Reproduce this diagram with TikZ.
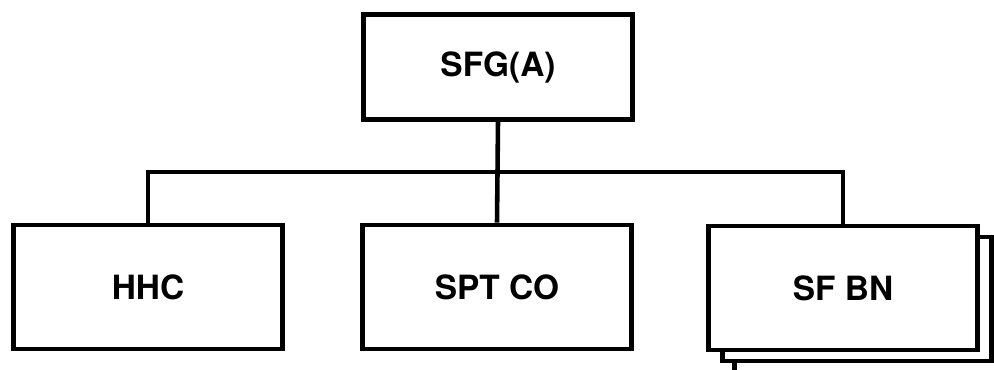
\documentclass[tikz,border=0pt]{standalone}
\usepackage{fontspec}
\setmainfont{TeX Gyre Heros}
\begin{document}
\begin{tikzpicture}[x=0.01cm,y=-0.01cm,
  unitbox/.style={draw, line width=1.3pt, fill=white, minimum width=2.69cm, minimum height=1.24cm,
    font=\fontsize{9.5}{11}\selectfont\bfseries, inner sep=0pt},
  link/.style={line width=1.3pt}]
\useasboundingbox (0,0) rectangle (994,370);
\begin{scope}
\clip (0,0) rectangle (994,370);
\node[unitbox] (sfbnc) at (869,311) {};
\node[unitbox] (sfbnb) at (857,299) {};
\end{scope}
\node[unitbox, minimum height=1.05cm] (top) at (498,67) {SFG(A)};
\node[unitbox] (hhc) at (148,287) {HHC};
\node[unitbox] (spt) at (497,287) {SPT CO};
\node[unitbox] (sfbn) at (843,288) {SF BN};
\coordinate (bus) at (497,172);
\draw[link] (top.south) -- (spt.north);
\draw[link] (hhc.north) |- (bus) -| (sfbn.north);
\end{tikzpicture}
\end{document}
